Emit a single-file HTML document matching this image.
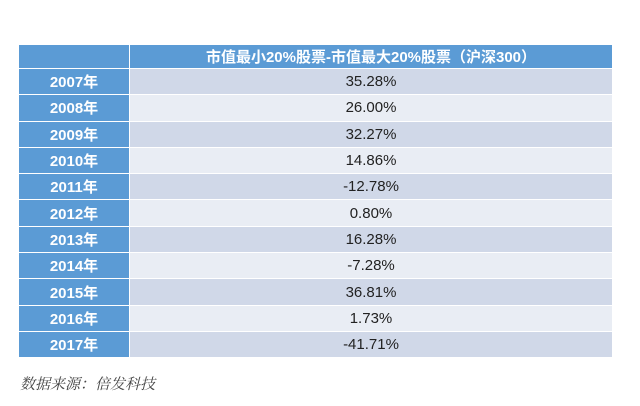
<!DOCTYPE html>
<html><head><meta charset="utf-8"><style>
body{margin:0;width:640px;height:406px;background:#fff;font-family:"Liberation Sans","Noto Sans CJK SC",sans-serif;overflow:hidden}
table{position:absolute;left:18px;top:44px;width:595px;border-collapse:collapse}
td{height:26.3px;padding:0;text-align:center;border:1px solid #fff;font-size:15px;box-sizing:border-box}
td.h{background:#5b9bd5;color:#fff;font-weight:bold;width:111px}
tr.hd td{height:24px;background:#5b9bd5;color:#fff;font-weight:bold;font-size:15px}
tr:nth-child(even) td.v{background:#d0d8e8}
tr:nth-child(odd) td.v{background:#e9edf4}
td.v{color:#222}
.src{position:absolute;left:20px;top:373px;font-size:15px;color:#444;font-style:italic;font-family:"Liberation Serif","Noto Serif CJK SC",serif}
</style></head><body>
<table>
<tr class="hd"><td></td><td>市值最小20%股票-市值最大20%股票（沪深300）</td></tr>
<tbody id="rows"></tbody>
</table>
<div class="src">数据来源：倍发科技</div>
<script>
const years=["2007年","2008年","2009年","2010年","2011年","2012年","2013年","2014年","2015年","2016年","2017年"];
const values=["35.28%","26.00%","32.27%","14.86%","-12.78%","0.80%","16.28%","-7.28%","36.81%","1.73%","-41.71%"];
const tb=document.querySelector('table');
years.forEach((y,i)=>{
const tr=document.createElement('tr');


const a=document.createElement('td');a.className='h';a.textContent=y;


const b=document.createElement('td');b.className='v';b.textContent=values[i];


tr.appendChild(a);tr.appendChild(b);tb.appendChild(tr);
});
document.getElementById('rows').remove();
</script>
</body></html>
